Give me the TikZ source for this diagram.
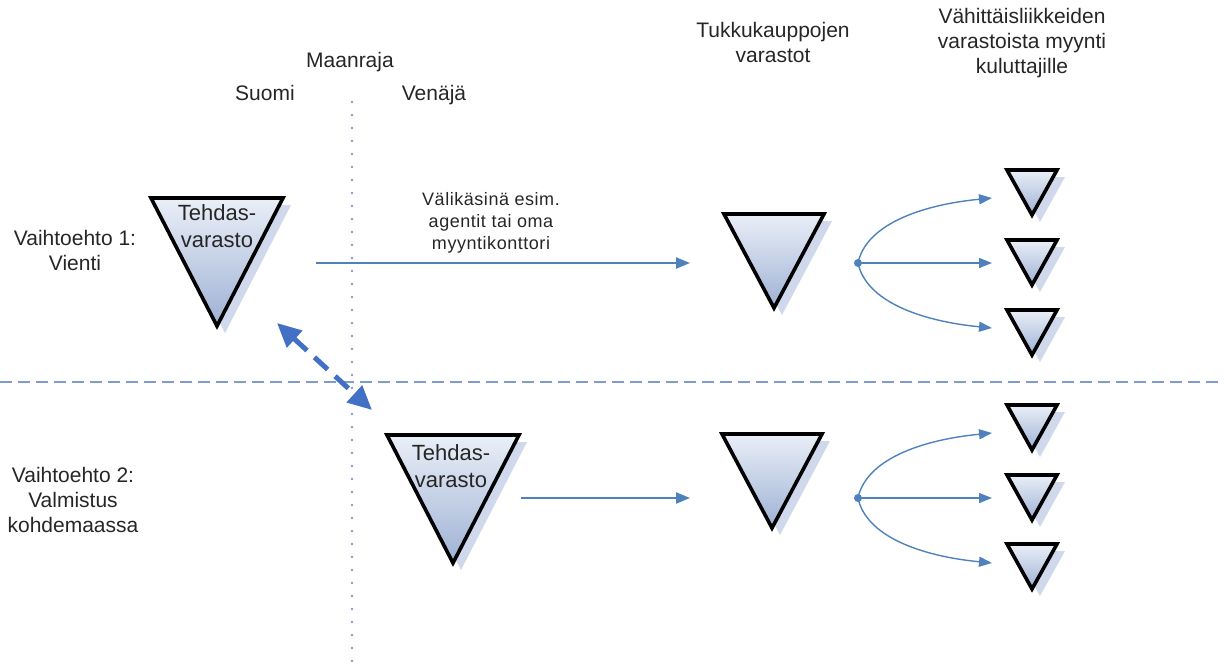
\documentclass[tikz,border=0pt]{standalone}
\usepackage{fontspec}
\setmainfont{Liberation Sans}
\usetikzlibrary{arrows.meta}

\definecolor{nuoli}{RGB}{79,129,189}
\definecolor{nuolitumma}{RGB}{66,112,196}
\definecolor{raja}{RGB}{128,156,204}
\definecolor{teksti}{RGB}{38,38,38}
\definecolor{yla}{RGB}{234,239,248}
\definecolor{ala}{RGB}{158,177,211}
\definecolor{varjo}{RGB}{208,217,235}

\tikzset{
  kolmio/.style={draw=black, line width=3.6pt, top color=yla, bottom color=ala},
  varjostus/.style={fill=varjo},
  nuolet/.style={draw=nuoli, line width=2.2pt, -{Triangle[length=14pt,width=11pt]}},
  haara/.style={draw=nuoli, line width=1.4pt, -{Triangle[length=13pt,width=10pt]}},
  otsikko/.style={text=teksti, inner sep=0pt, align=center, font=\fontsize{21}{25}\selectfont},
  pieni/.style={otsikko, font=\fontsize{18}{22}\selectfont\addfontfeatures{LetterSpace=3}},
  kolmioteksti/.style={otsikko, font=\fontsize{22}{27}\selectfont}
}

% nimi, keski-x, yla-y, puolileveys, korkeus
\newcommand{\varasto}[5]{%
  \begin{scope}[shift={(#2,#3)}]
    \fill[varjostus] (-#4+8,7) -- (#4+8,7) -- (8,#5+7) -- cycle;
    \draw[kolmio] (-#4,0) -- (#4,0) -- (0,#5) -- cycle;
    \coordinate (#1) at (0,#5/3);
  \end{scope}}

\begin{document}
\begin{tikzpicture}[x=1pt, y=-1pt]
\useasboundingbox (0,0) rectangle (1224,670);

% rajat
\coordinate (rajayla) at (352,102);
\coordinate (rajaala) at (352,668);
\coordinate (vasen) at (0,382);
\coordinate (oikea) at (1224,382);
\draw[raja, line width=2.6pt, line cap=round, dash pattern=on 0pt off 13pt] (rajayla) -- (rajaala);
\draw[raja, line width=2pt, dash pattern=on 12pt off 6pt] (vasen) -- (oikea);

% varastot
\varasto{tehdas1}{217}{198}{66}{128}
\varasto{tehdas2}{453}{435}{66}{128}
\varasto{tukku1}{774}{214}{50}{94}
\varasto{tukku2}{772}{434}{50}{94}
\foreach \y/\n in {170/a,240/b,310/c}{
  \varasto{myymala1\n}{1032}{\y}{25}{45}
}
\foreach \y/\n in {405/a,475/b,544/c}{
  \varasto{myymala2\n}{1032}{\y}{25}{45}
}

% tekstit
\node[otsikko, anchor=base] (maanraja) at (350,67) {Maanraja};
\node[otsikko, anchor=base] (suomi) at (265,100) {Suomi};
\node[otsikko, anchor=base] (venaja) at (434,100) {Venäjä};
\node[otsikko, anchor=north] (tukku) at (773,22) {Tukkukauppojen\\varastot};
\node[otsikko, anchor=north] (vahittais) at (1022,8) {Vähittäisliikkeiden\\varastoista myynti\\kuluttajille};
\node[otsikko, anchor=north] (vaihto1) at (75,230) {Vaihtoehto 1:\\Vienti};
\node[otsikko, anchor=north] (vaihto2) at (73,467) {Vaihtoehto 2:\\Valmistus\\kohdemaassa};
\node[pieni, anchor=north] (valikasi) at (491,192) {Välikäsinä esim.\\agentit tai oma\\myyntikonttori};
\node[kolmioteksti, anchor=north] (tehdasteksti1) at (217,204) {Tehdas-\\varasto};
\node[kolmioteksti, anchor=north] (tehdasteksti2) at (451,444) {Tehdas-\\varasto};

% nuolet
\coordinate (vienti1) at (316,263);
\coordinate (vienti2) at (690,263);
\coordinate (valmistus1) at (521,498);
\coordinate (valmistus2) at (690,498);
\draw[nuolet] (vienti1) -- (vienti2);
\draw[nuolet] (valmistus1) -- (valmistus2);

\coordinate (siirto1) at (277,323);
\coordinate (siirto2) at (372,410);
\draw[nuolitumma, line width=5pt, dash pattern=on 18pt off 10pt,
  {Triangle[length=24pt,width=22pt]}-{Triangle[length=24pt,width=22pt]}] (siirto1) -- (siirto2);

% jakelu
\foreach \k/\y in {1/263,2/498}{
  \coordinate (jako\k) at (858,\y);
  \coordinate (kohde\k a) at (992,\y-65);
  \coordinate (kohde\k b) at (992,\y);
  \coordinate (kohde\k c) at (992,\y+65);
  \fill[nuoli] (jako\k) circle (4pt);
  \draw[haara] (jako\k) .. controls (866,\y-38) and (920,\y-58) .. (kohde\k a);
  \draw[haara] (jako\k) -- (kohde\k b);
  \draw[haara] (jako\k) .. controls (866,\y+38) and (920,\y+58) .. (kohde\k c);
}
\end{tikzpicture}
\end{document}
